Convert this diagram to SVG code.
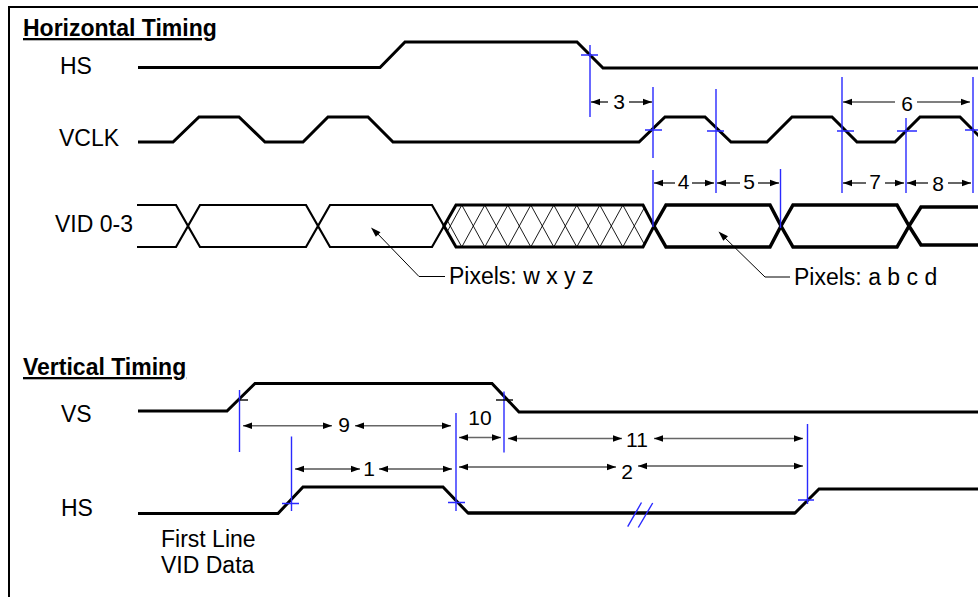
<svg xmlns="http://www.w3.org/2000/svg" width="978" height="597" viewBox="0 0 978 597">
<style>
  .lbl { font-family: "Liberation Sans", Arial, sans-serif; font-size: 23px; fill: #000; }
  .ttl { font-family: "Liberation Sans", Arial, sans-serif; font-size: 23px; font-weight: bold; fill: #000; text-decoration: underline; }
  .num { font-family: "Liberation Sans", Arial, sans-serif; font-size: 21px; fill: #000; text-anchor: middle; }
  .sig { fill: none; stroke: #000; stroke-width: 3; stroke-linejoin: miter; }
  .bus { fill: none; stroke: #000; stroke-width: 2.2; }
  .busT { fill: none; stroke: #000; stroke-width: 3.5; }
  .hatch { fill: none; stroke: #000; stroke-width: 0.9; }
  .mk { fill: none; stroke: #2a2aff; stroke-width: 1.4; }
  .tk { fill: none; stroke: #000; stroke-width: 1.4; }
  .dim { fill: none; stroke: #000; stroke-width: 1.2; }
  .dimg { fill: none; stroke: #666; stroke-width: 1.5; }
  .lead { fill: none; stroke: #000; stroke-width: 1; }
</style>
<defs>
  <marker id="ah" markerUnits="userSpaceOnUse" markerWidth="10" markerHeight="8" refX="9" refY="4" orient="auto-start-reverse">
    <path d="M0,0.8 L9,4 L0,7.2 Z" fill="#000"/>
  </marker>
  <clipPath id="hexclip">
    <polygon points="444,226 456,205 643,205 654,226 643,247 456,247"/>
  </clipPath>
</defs>

<g id="frame">
  <line x1="9" y1="7" x2="978" y2="7" stroke="#000" stroke-width="2"/>
  <line x1="9" y1="6" x2="9" y2="597" stroke="#000" stroke-width="2"/>
</g>

<g id="horizontal-title">
  <text class="ttl" x="23" y="36">Horizontal Timing</text>
</g>

<g id="hs-top">
  <text class="lbl" x="60" y="73.5">HS</text>
  <path class="sig" d="M138,67.5 H380 L405,42 H577 L603,68 H978"/>
</g>

<g id="vclk">
  <text class="lbl" x="59" y="145.5">VCLK</text>
  <path class="sig" d="M138,142 H173 L199,117 H239 L265,142 H303 L328,117 H368 L393,142 H639 L665,117 H705 L731,142 H767 L792,117 H832 L857,142 H895 L920,117 H960 L985,142"/>
</g>

<g id="vid">
  <text class="lbl" x="55" y="231.5">VID 0-3</text>
  <path class="bus" d="M137,205 H176 L188,226 L176,247 H137"/>
  <path class="bus" d="M188,226 L200,205 H306 L318,226 L306,247 H200 Z"/>
  <path class="bus" d="M318,226 L330,205 H432 L444,226 L432,247 H330 Z"/>
  <g clip-path="url(#hexclip)">
    <path class="hatch" d="M415.8,205 L438.8,247 M438.8,205 L461.8,247 M461.8,205 L484.8,247 M484.8,205 L507.8,247 M507.8,205 L530.8,247 M530.8,205 L553.8,247 M553.8,205 L576.8,247 M576.8,205 L599.8,247 M599.8,205 L622.8,247 M622.8,205 L645.8,247 M645.8,205 L668.8,247
      M415.8,247 L438.8,205 M438.8,247 L461.8,205 M461.8,247 L484.8,205 M484.8,247 L507.8,205 M507.8,247 L530.8,205 M530.8,247 L553.8,205 M553.8,247 L576.8,205 M576.8,247 L599.8,205 M599.8,247 L622.8,205 M622.8,247 L645.8,205 M645.8,247 L668.8,205"/>
  </g>
  <path class="sig" d="M444,226 L456,205 H643 L654,226 L643,247 H456 Z"/>
  <path class="busT" d="M654,226 L666,205 H770 L781,226 L770,247 H666 Z"/>
  <path class="busT" d="M781,226 L793,205 H897 L909,226 L897,247 H793 Z"/>
  <path class="busT" d="M909,226 L921,207 H978 M909,226 L921,245 H978"/>
</g>

<g id="pixels-wxyz">
  <path class="lead" d="M445,276.5 H419 L375,231" />
  <path d="M371,227.5 L380.5,232.2 L375.8,236.8 Z" fill="#000"/>
  <text class="lbl" x="449" y="284">Pixels: w x y z</text>
</g>

<g id="pixels-abcd">
  <path class="lead" d="M790,277 H765 L722,235" />
  <path d="M718.5,231.5 L728,236.2 L723.3,240.8 Z" fill="#000"/>
  <text class="lbl" x="794" y="285">Pixels: a b c d</text>
</g>

<g id="markers-h">
  <path class="mk" d="M590,45 V117 M581,55 H598"/>
  <path class="mk" d="M653,87 V158 M645,130 H662"/>
  <path class="mk" d="M653,170 V227"/>
  <path class="mk" d="M716,89 V193 M707,131 H724"/>
  <path class="mk" d="M780.5,169 V228"/>
  <path class="mk" d="M842,77 V193 M837,131 H854"/>
  <path class="mk" d="M906,118 V193 M897,131 H917"/>
  <path class="mk" d="M973,77 V193 M965,130 H978"/>
</g>

<g id="connectors-h">
  <path class="dim" d="M591,102 H608" marker-start="url(#ah)"/>
  <path class="dim" d="M629,102 H652" marker-end="url(#ah)"/>
  <text class="num" x="619" y="108.5">3</text>

  <path class="dim" d="M843,102 H895" marker-start="url(#ah)"/>
  <path class="dim" d="M917,102 H970" marker-end="url(#ah)"/>
  <text class="num" x="907" y="110.5">6</text>

  <path class="dim" d="M654,183 H675" marker-start="url(#ah)"/>
  <path class="dim" d="M692,183 H714" marker-end="url(#ah)"/>
  <text class="num" x="683.5" y="189">4</text>

  <path class="dim" d="M717,183 H740" marker-start="url(#ah)"/>
  <path class="dim" d="M758,183 H779" marker-end="url(#ah)"/>
  <text class="num" x="749" y="189">5</text>

  <path class="dim" d="M843,183 H866" marker-start="url(#ah)"/>
  <path class="dim" d="M885,183 H904" marker-end="url(#ah)"/>
  <text class="num" x="875" y="189">7</text>

  <path class="dim" d="M907,183 H928" marker-start="url(#ah)"/>
  <path class="dim" d="M948,183 H971" marker-end="url(#ah)"/>
  <text class="num" x="938" y="190.5">8</text>
</g>

<g id="vertical-title">
  <text class="ttl" x="23" y="375">Vertical Timing</text>
</g>

<g id="vs">
  <text class="lbl" x="61" y="422">VS</text>
  <path class="sig" d="M138,411 H227 L255,383.5 H492 L519,412 H978"/>
</g>

<g id="hs-bottom">
  <text class="lbl" x="61" y="516">HS</text>
  <path class="sig" d="M138,513.5 H278 L303,487 H443 L468,513 H795 L819,489 H978"/>
  <path class="sig" d="M468,513 H795" stroke-width="4"/>
</g>

<g id="first-line">
  <text class="lbl" x="161" y="547">First Line</text>
  <text class="lbl" x="161" y="572.5">VID Data</text>
</g>

<g id="markers-v">
  <path class="mk" d="M239.5,390 V452"/>
  <path class="tk" d="M239.5,400 H248"/>
  <path class="mk" d="M504,391.5 V452.5"/>
  <path class="tk" d="M496,400 H513"/>
  <path class="mk" d="M291.5,436.5 V511 M282,503.5 H299"/>
  <path class="mk" d="M456,413 V511 M448,502.5 H465"/>
  <path class="mk" d="M807.5,424 V504 M798,500 H814"/>
  <path class="mk" d="M627.7,526.7 L641.5,502.5 M638.3,527.5 L652.7,503"/>
</g>

<g id="connectors-v">
  <path class="dimg" d="M243,425.7 H332" marker-start="url(#ah)" marker-end="url(#ah)"/>
  <text class="num" x="344" y="432">9</text>
  <path class="dimg" d="M355,425.7 H451" marker-start="url(#ah)" marker-end="url(#ah)"/>

  <text class="num" x="480" y="425">10</text>
  <path class="dimg" d="M459,437.5 H501" marker-start="url(#ah)" marker-end="url(#ah)"/>

  <path class="dimg" d="M508,438.5 H622" marker-start="url(#ah)" marker-end="url(#ah)"/>
  <text class="num" x="637" y="447">11</text>
  <path class="dimg" d="M654,438.5 H803" marker-start="url(#ah)" marker-end="url(#ah)"/>

  <path class="dim" d="M295,469 H360" marker-start="url(#ah)" marker-end="url(#ah)"/>
  <text class="num" x="369" y="476">1</text>
  <path class="dim" d="M379,469 H452" marker-start="url(#ah)" marker-end="url(#ah)"/>

  <path class="dim" d="M459,467 H616" marker-start="url(#ah)" marker-end="url(#ah)"/>
  <text class="num" x="627" y="479">2</text>
  <path class="dim" d="M638,466 H803" marker-start="url(#ah)" marker-end="url(#ah)"/>
</g>
</svg>
